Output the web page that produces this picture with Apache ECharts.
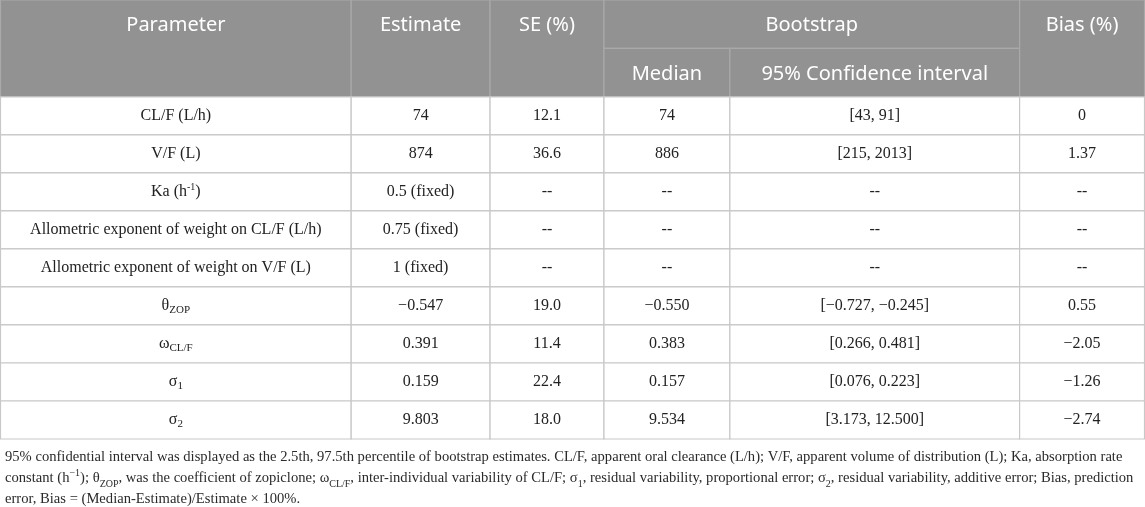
<!DOCTYPE html>
<html>
<head>
<meta charset="utf-8">
<script src="https://cdn.jsdelivr.net/npm/echarts@6/dist/echarts.min.js"></script>
<style>
html, body { margin: 0; padding: 0; background: #fff; }
#container { width: 1145px; height: 507px; }
</style>
</head>
<body>
<div id="container"></div>
<script>
// table contents
var headers = ['Parameter', 'Estimate', 'SE (%)', 'Bootstrap', 'Median', '95% Confidence interval', 'Bias (%)'];
var parameters = ['CL/F (L/h)', 'V/F (L)', 'Ka (h{sup|-1})',
    'Allometric exponent of weight on CL/F (L/h)', 'Allometric exponent of weight on V/F (L)',
    '\u03b8{sub|ZOP}', '\u03c9{sub|CL/F}', '\u03c3{sub|1}', '\u03c3{sub|2}'];
var estimate = ['74', '874', '0.5 (fixed)', '0.75 (fixed)', '1 (fixed)', '\u22120.547', '0.391', '0.159', '9.803'];
var se = ['12.1', '36.6', '--', '--', '--', '19.0', '11.4', '22.4', '18.0'];
var median = ['74', '886', '--', '--', '--', '\u22120.550', '0.383', '0.157', '9.534'];
var ci = ['[43, 91]', '[215, 2013]', '--', '--', '--', '[\u22120.727, \u22120.245]', '[0.266, 0.481]', '[0.076, 0.223]', '[3.173, 12.500]'];
var bias = ['0', '1.37', '--', '--', '--', '0.55', '\u22122.05', '\u22121.26', '\u22122.74'];
var footnote = [
    '95% confidential interval was displayed as the 2.5th, 97.5th percentile of bootstrap estimates. CL/F, apparent oral clearance (L/h); V/F, apparent volume of distribution (L); Ka, absorption rate',
    'constant (h{sup|\u22121}); \u03b8{sub|ZOP}, was the coefficient of zopiclone; \u03c9{sub|CL/F}, inter-individual variability of CL/F; \u03c3{sub|1}, residual variability, proportional error; \u03c3{sub|2}, residual variability, additive error; Bias, prediction',
    'error, Bias = (Median-Estimate)/Estimate \u00d7 100%.'
];

// layout
var colEdges = [0, 351, 490, 604, 730, 1020, 1145];
var headH = 2.55;   // header height, in body rows
var half = headH / 2;
var headerSpans = [[0, 1, -headH, 0], [1, 2, -headH, 0], [2, 3, -headH, 0],
    [3, 5, -headH, -half], [3, 4, -half, 0], [4, 5, -half, 0], [5, 6, -headH, 0]];

window.onload = function () {
    var myChart = echarts.init(document.getElementById('container'));
    var columns = [parameters, estimate, se, median, ci, bias];
    var serif = 'Liberation Serif';

    var headData = headerSpans.map(function (s, i) {
        return [colEdges[s[0]], colEdges[s[1]], s[2], s[3], i];
    });
    var bodyData = [];
    for (var r = 0; r < parameters.length; r++) {
        for (var c = 0; c < columns.length; c++) {
            bodyData.push([colEdges[c], colEdges[c + 1], r, r + 1, c, r]);
        }
    }

    function cell(api, fill, stroke) {
        var a = api.coord([api.value(0), api.value(2)]);
        var b = api.coord([api.value(1), api.value(3)]);
        return { a: a, b: b, rect: {
            type: 'rect',
            shape: { x: a[0], y: a[1], width: b[0] - a[0], height: b[1] - a[1] },
            style: { fill: fill, stroke: stroke, lineWidth: 1.2 }
        } };
    }

    option = {
        animation: false,
        title: {
            left: 0,
            top: 442,
            text: footnote.join('\n'),
            textStyle: {
                fontFamily: serif,
                fontSize: 14.6,
                fontWeight: 'normal',
                color: '#2a2a2a',
                lineHeight: 21,
                rich: {
                    sub: { fontFamily: serif, fontSize: 10, lineHeight: 12, verticalAlign: 'bottom' },
                    sup: { fontFamily: serif, fontSize: 10, lineHeight: 14, verticalAlign: 'top' }
                }
            }
        },
        grid: { left: 0.5, right: 0.5, top: 0, bottom: 68 },
        xAxis: { type: 'value', min: 0, max: 1145, show: false },
        yAxis: { type: 'value', min: -headH, max: 9, inverse: true, show: false },
        series: [{
            type: 'custom',
            data: headData,
            encode: { x: [0, 1], y: [2, 3] },
            renderItem: function (params, api) {
                var g = cell(api, '#929292', '#a9a9a9');
                var ty = api.coord([0, api.value(2) + half / 2])[1] + 1.5;
                return { type: 'group', children: [g.rect, {
                    type: 'text',
                    style: {
                        text: headers[api.value(4)],
                        x: (g.a[0] + g.b[0]) / 2, y: ty,
                        align: 'center', verticalAlign: 'middle',
                        fill: '#fff', fontFamily: 'Noto Sans', fontSize: 20
                    }
                }] };
            }
        }, {
            type: 'custom',
            data: bodyData,
            encode: { x: [0, 1], y: [2, 3] },
            renderItem: function (params, api) {
                var g = cell(api, '#fff', '#c8c8c8');
                return { type: 'group', children: [g.rect, {
                    type: 'text',
                    style: {
                        text: columns[api.value(4)][api.value(5)],
                        x: (g.a[0] + g.b[0]) / 2, y: (g.a[1] + g.b[1]) / 2,
                        align: 'center', verticalAlign: 'middle',
                        fill: '#222', fontFamily: serif, fontSize: 16, lineHeight: 20,
                        rich: {
                            sub: { fontFamily: serif, fontSize: 11, lineHeight: 10, verticalAlign: 'bottom' },
                            sup: { fontFamily: serif, fontSize: 10, lineHeight: 12, verticalAlign: 'top' }
                        }
                    }
                }] };
            }
        }]
    };
    myChart.setOption(option, true);
};
</script>
</body>
</html>
